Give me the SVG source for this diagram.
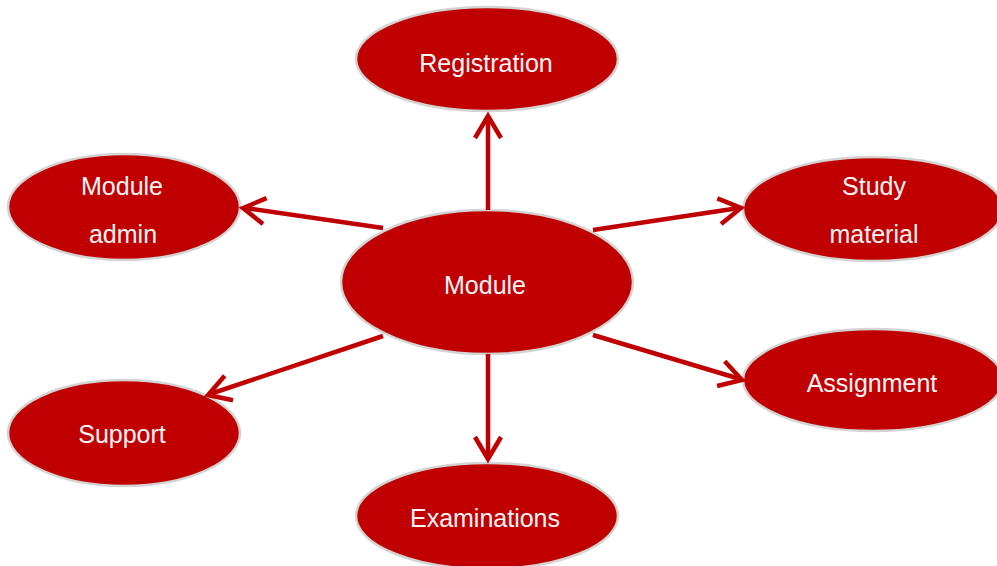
<svg xmlns="http://www.w3.org/2000/svg" width="997" height="566" viewBox="0 0 997 566">
  <style>
    .node ellipse { fill: #C00000; stroke: #D4D4D4; stroke-width: 2.5; }
    .node text { fill: #FFF4F7; font-family: "Liberation Sans", Arial, sans-serif; font-size: 25px; text-anchor: middle; }
    .edge { fill: none; stroke: #C00000; stroke-width: 4.5; stroke-linejoin: miter; stroke-linecap: butt; }
  </style>
  <rect width="997" height="566" fill="#FFFFFF"/>

  <g id="node-registration" class="node">
    <ellipse cx="487" cy="59" rx="131" ry="52"/>
    <text x="486" y="72">Registration</text>
  </g>
  <g id="node-module-admin" class="node">
    <ellipse cx="124" cy="207" rx="116" ry="53"/>
    <text x="122" y="195">Module</text>
    <text x="123" y="243">admin</text>
  </g>
  <g id="node-study-material" class="node">
    <ellipse cx="873" cy="209" rx="130" ry="52"/>
    <text x="874" y="195">Study</text>
    <text x="874" y="243">material</text>
  </g>
  <g id="node-module" class="node">
    <ellipse cx="487" cy="282" rx="146" ry="72"/>
    <text x="485" y="294">Module</text>
  </g>
  <g id="node-support" class="node">
    <ellipse cx="124" cy="433" rx="116" ry="53"/>
    <text x="122" y="443">Support</text>
  </g>
  <g id="node-assignment" class="node">
    <ellipse cx="873" cy="380" rx="130" ry="51"/>
    <text x="872" y="392">Assignment</text>
  </g>
  <g id="node-examinations" class="node">
    <ellipse cx="487" cy="516" rx="131" ry="53"/>
    <text x="485" y="527">Examinations</text>
  </g>

  <g id="connectors">
    <!-- Module -> Registration -->
    <path class="edge" d="M488 210 L488 116"/>
    <path class="edge" d="M475 138 L488 116 L501 138"/>
    <!-- Module -> Examinations -->
    <path class="edge" d="M488 354 L488 459"/>
    <path class="edge" d="M475 437 L488 459 L501 437"/>
    <!-- Module -> Module admin -->
    <path class="edge" d="M383 228 L245 208"/>
    <path class="edge" d="M266.6 198.2 L243 208 L263 224"/>
    <!-- Module -> Study material -->
    <path class="edge" d="M593 230 L739 208"/>
    <path class="edge" d="M717.3 198.3 L741 208 L721.1 224.1"/>
    <!-- Module -> Support -->
    <path class="edge" d="M383 336 L210 394"/>
    <path class="edge" d="M224.7 375.7 L208 395 L233 400.3"/>
    <!-- Module -> Assignment -->
    <path class="edge" d="M593 335 L740 379"/>
    <path class="edge" d="M724.7 361.2 L742 380 L717.1 386"/>
  </g>
</svg>
